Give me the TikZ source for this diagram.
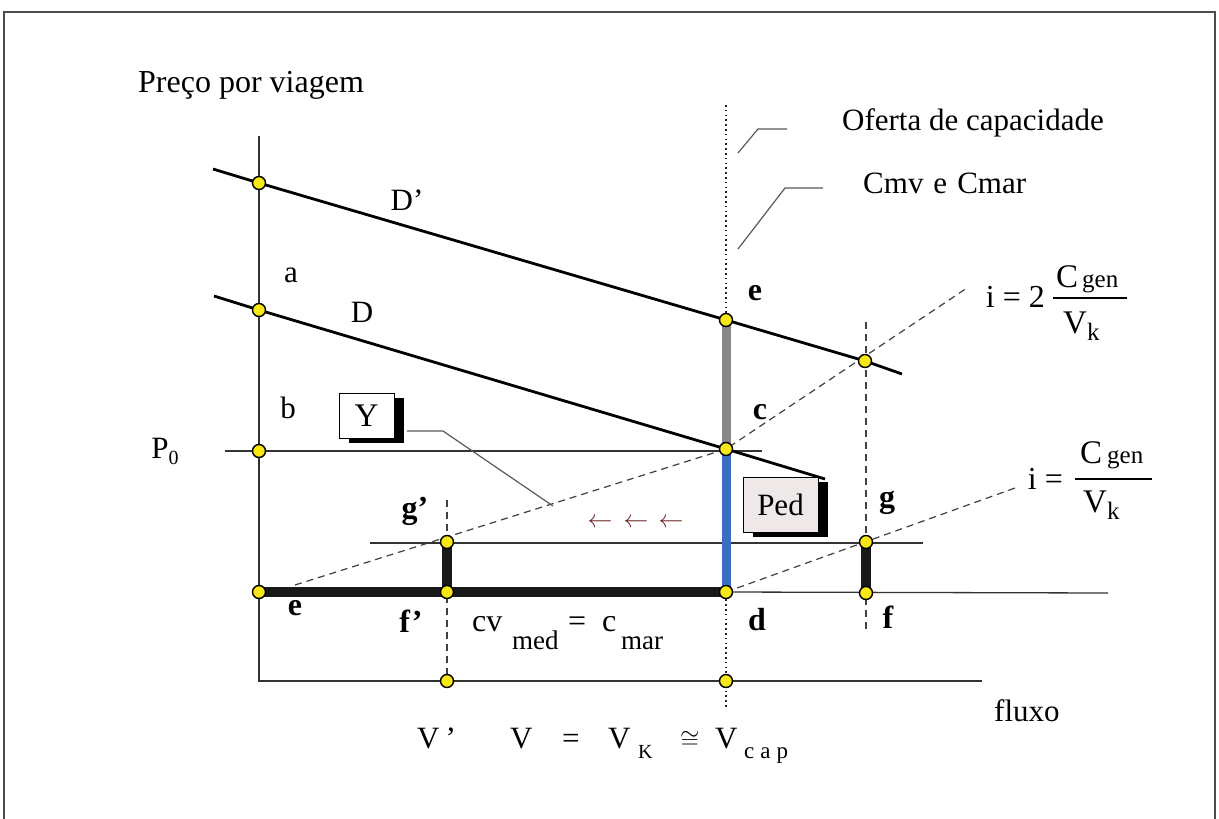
\documentclass[tikz,border=0pt]{standalone}
\usepackage{fontspec}
\setmainfont{Liberation Serif}
\usetikzlibrary{shadows,calc}
\newcommand\myfs[1]{\fontsize{#1}{#1}\selectfont}
\definecolor{dotyellow}{RGB}{250,232,20}
\definecolor{barblue}{RGB}{58,110,196}
\definecolor{bargray}{RGB}{135,135,135}
\definecolor{arrred}{RGB}{110,35,35}
\definecolor{pedfill}{RGB}{238,232,232}
\begin{document}
\begin{tikzpicture}[x=1pt,y=-1pt,
  dot/.style={circle,draw=black,fill=dotyellow,line width=1.4pt,minimum size=13pt,inner sep=0pt},
  txt/.style={font=\myfs{31},inner sep=0pt},
  lbl/.style={font=\myfs{32}\bfseries,inner sep=0pt},
  axisline/.style={line width=1.3pt,draw=black!80},
  demand/.style={line width=2.8pt,draw=black},
  dashline/.style={line width=1.2pt,draw=black!75,dash pattern=on 7pt off 5pt},
  dotline/.style={line width=1.6pt,draw=black!85,dash pattern=on 1.6pt off 3.2pt},
  leader/.style={line width=1.2pt,draw=black!65},
  heavybar/.style={line width=10pt,draw=black!90},
  boxshadow/.style={general shadow={fill=black,shadow xshift=10pt,shadow yshift=-5pt}},
  labelbox/.style={draw=black,line width=1pt,inner sep=0pt,boxshadow}
]
\useasboundingbox (0,0) rectangle (1219,819);
\fill[white] (0,0) rectangle (1219,819);
% frame
\coordinate (fr1) at (4,830);
\coordinate (fr2) at (4,12);
\coordinate (fr3) at (1215,12);
\coordinate (fr4) at (1215,830);
\draw[line width=1.2pt,draw=black!70] (fr1) -- (fr2) -- (fr3) -- (fr4);

% key points
\coordinate (pA1) at (259,183);
\coordinate (pA2) at (259,310);
\coordinate (pA3) at (259,451);
\coordinate (pA4) at (259,592);
\coordinate (pE) at (726,320);
\coordinate (pC) at (726,449);
\coordinate (pD) at (726,592);
\coordinate (pDp) at (865,361);
\coordinate (pGp) at (447,542);
\coordinate (pFp) at (447,592);
\coordinate (pG) at (866,542);
\coordinate (pF) at (866,593);
\coordinate (pVp) at (447,681);
\coordinate (pVk) at (726,681);

% axes
\coordinate (yTop) at (259,136);
\coordinate (origin) at (259,681);
\coordinate (xEnd) at (982,681);
\draw[axisline] (yTop) -- (origin) -- (xEnd);

% thin horizontals
\coordinate (p0s) at (225,451);
\coordinate (p0e) at (762,451);
\draw[axisline] (p0s) -- (p0e);
\coordinate (h1s) at (370,543);
\coordinate (h1e) at (923,543);
\draw[axisline] (h1s) -- (h1e);
\coordinate (h2e) at (1108,593);
\draw[axisline] (pD) -- (h2e);

% dotted capacity line
\coordinate (capTop) at (726,105);
\coordinate (capBot) at (726,707);
\draw[dotline] (capTop) -- (capBot);

% dashed verticals
\coordinate (vpTop) at (447,500);
\draw[dashline] (vpTop) -- (pVp);
\coordinate (vgTop) at (866,322);
\coordinate (vgBot) at (866,632);
\draw[dashline] (vgTop) -- (vgBot);

% dashed cost lines
\coordinate (dl1s) at (295,585);
\coordinate (dl1e) at (967,288);
\draw[dashline] (dl1s) -- (pC) -- (dl1e);
\coordinate (dl2e) at (1015,488);
\draw[dashline] (pD) -- (dl2e);

% leaders
\coordinate (l1a) at (738,153);
\coordinate (l1b) at (758,129);
\coordinate (l1c) at (787,129);
\draw[leader] (l1a) -- (l1b) -- (l1c);
\coordinate (l2a) at (738,249);
\coordinate (l2b) at (785,188);
\coordinate (l2c) at (823,188);
\draw[leader] (l2a) -- (l2b) -- (l2c);

% heavy bars
\draw[heavybar] (pA4) -- (pD);
\draw[line width=9pt,draw=bargray] (pE) -- (pC);
\draw[line width=9pt,draw=barblue] (pC) -- (pD);
\draw[heavybar,line cap=round] (pGp) -- (pFp);
\draw[heavybar,line cap=round] (pG) -- (pF);

% demand curves
\coordinate (dps) at (213,169);
\coordinate (dpe) at (902,374);
\draw[demand] (dps) -- (pA1) -- (pE) -- (pDp) -- (dpe);
\coordinate (ds) at (214,296);
\coordinate (de) at (825,479);
\draw[demand] (ds) -- (pA2) -- (pC) -- (de);

% boxes
\node[labelbox,fill=white,minimum width=55pt,minimum height=45pt,font=\myfs{33}] (Ybox) at (366.5,415.5) {Y};
\coordinate (yl0) at (407,431);
\coordinate (yl1) at (443,431);
\coordinate (yl2) at (553,506);
\draw[leader] (yl0) -- (yl1) -- (yl2);
\node[labelbox,fill=pedfill,minimum width=75pt,minimum height=55pt,font=\myfs{31}] (Ped) at (780.5,504.5) {Ped};

% dots
\foreach \p in {A1,A2,A3,A4,E,C,D,Dp,Gp,Fp,G,F,Vp,Vk}
  \node[dot] (dot\p) at (p\p) {};

% texts
\node[txt,anchor=west,font=\myfs{32}] (preco) at (138,85) {Preço por viagem};
\node[txt,anchor=west] (oferta) at (842,123) {Oferta de capacidade};
\node[txt,anchor=west] (cmv) at (863,183) {Cmv\hspace{10pt}e\hspace{10pt}Cmar};
\node[txt] (la) at (291,275) {a};
\node[txt] (lb) at (288,408) {b};
\node[txt] (lDp) at (407,200) {D’};
\node[txt] (lD) at (362,312) {D};
\node[txt] (lP0) at (165,451) {P\raisebox{-6pt}{\myfs{20}0}};
\node[lbl] (le) at (755,293) {e};
\node[lbl] (lc) at (760,412) {c};
\node[lbl] (ld) at (757,620) {d};
\node[lbl] (le2) at (295,608) {e};
\node[lbl] (lfp) at (411,621) {f’};
\node[lbl] (lgp) at (415,511) {g’};
\node[lbl] (lg) at (887,503) {g};
\node[lbl] (lf) at (888,617) {f};
\node[txt,anchor=west] (fluxo) at (994,711) {fluxo};

% arrows
\foreach \x/\n in {600/a1,636/a2,671/a3}
  \node[inner sep=0pt,text=arrred,font=\myfs{28}] (arr\n) at (\x,523) {$\leftarrow$};

% cv formula
\node[txt,anchor=base west,font=\myfs{32}] (cvA) at (472,631) {cv};
\node[txt,anchor=base west,font=\myfs{27}] (cvB) at (512,649) {med};
\node[txt,anchor=base west,font=\myfs{32}] (cvC) at (568,631) {=};
\node[txt,anchor=base west,font=\myfs{32}] (cvD) at (602,631) {c};
\node[txt,anchor=base west,font=\myfs{27}] (cvE) at (621,649) {mar};

% formula 1
\node[txt,anchor=base east,font=\myfs{32}] (f1a) at (1045,307) {i = 2};
\coordinate (b1s) at (1053,298);
\coordinate (b1e) at (1127,298);
\draw[line width=1.3pt] (b1s) -- (b1e);
\node[txt,anchor=base west,font=\myfs{33}] (f1n) at (1056,287) {C\hspace{4pt}{\myfs{25}gen}};
\node[txt,anchor=base west,font=\myfs{33}] (f1d) at (1063,333) {V\raisebox{-7pt}{\myfs{25}k}};

% formula 2
\node[txt,anchor=base east,font=\myfs{32}] (f2a) at (1063,489) {i =};
\coordinate (b2s) at (1075,479);
\coordinate (b2e) at (1152,479);
\draw[line width=1.3pt] (b2s) -- (b2e);
\node[txt,anchor=base west,font=\myfs{33}] (f2n) at (1080,463) {C\hspace{5pt}{\myfs{25}gen}};
\node[txt,anchor=base west,font=\myfs{33}] (f2d) at (1083,512) {V\raisebox{-7pt}{\myfs{25}k}};

% bottom labels
\node[txt,anchor=base west] (bV1) at (417,748) {V\hspace{6pt}'};
\node[txt,anchor=base west] (bV2) at (510,748) {V};
\node[txt,anchor=base west] (bEq) at (562,748) {=};
\node[txt,anchor=base west] (bV3) at (608,748) {V};
\node[txt,anchor=base west,font=\myfs{20}] (bK) at (638,758) {K};
\node[txt,anchor=base west] (bCong) at (680,748) {$\cong$};
\node[txt,anchor=base west] (bV4) at (715,748) {V};
\node[txt,anchor=base west,font=\myfs{23}] (bCap) at (744,758) {c\hspace{6pt}a\hspace{6pt}p};
\end{tikzpicture}
\end{document}
